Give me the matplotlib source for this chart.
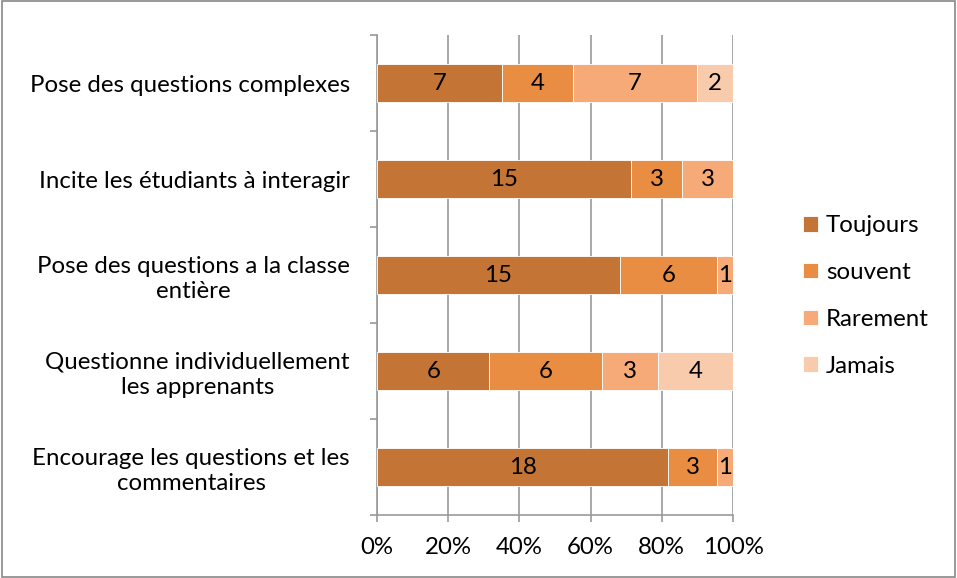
import matplotlib
matplotlib.use("Agg")
import matplotlib.pyplot as plt
import numpy as np
from matplotlib.patches import Rectangle

categories = [
    "Pose des questions complexes",
    "Incite les étudiants à interagir",
    "Pose des questions a la classe\nentière",
    "Questionne individuellement\nles apprenants",
    "Encourage les questions et les\ncommentaires",
]
series_names = ["Toujours", "souvent", "Rarement", "Jamais"]
toujours = [7, 15, 15, 6, 18]
souvent = [4, 3, 6, 6, 3]
rarement = [7, 3, 1, 3, 1]
jamais = [2, 0, 0, 4, 0]
colors = ["#C47535", "#E98D42", "#F6AA78", "#F8CBAD"]
xtick_labels = ["0%", "20%", "40%", "60%", "80%", "100%"]

plt.rcParams["font.family"] = ["Lato", "DejaVu Sans"]
FS = 17.3

fig = plt.figure(figsize=(9.57, 5.78), dpi=100)
ax = fig.add_axes([377 / 957, 1 - 515 / 578, (733 - 377) / 957, (515 - 35) / 578])

data = np.array([toujours, souvent, rarement, jamais], dtype=float)
totals = data.sum(axis=0)
pct = data / totals * 100
ypos = np.arange(len(categories))[::-1]

left = np.zeros(len(categories))
for i, name in enumerate(series_names):
    ax.barh(ypos, pct[i], left=left, height=0.4, color=colors[i], label=name,
            edgecolor="white", linewidth=0.6, zorder=3)
    for j in range(len(categories)):
        if data[i, j] > 0:
            ax.text(left[j] + pct[i, j] / 2, ypos[j], f"{int(data[i, j])}",
                    ha="center", va="center", fontsize=FS, color="black", zorder=4)
    left += pct[i]

ax.set_xlim(0, 100)
ax.set_ylim(-0.5, len(categories) - 0.5)
ax.set_xticks(np.arange(0, 101, 20))
ax.set_xticklabels(xtick_labels, fontsize=FS)
ax.set_yticks(ypos)
ax.set_yticklabels(categories, fontsize=FS, multialignment="center", linespacing=1.22)
ax.set_yticks(np.arange(-0.5, len(categories), 1), minor=True)

ax.tick_params(axis="y", which="major", length=0, pad=19.5)
ax.tick_params(axis="y", which="minor", length=5, color="#999999", width=1.2)
ax.tick_params(axis="x", length=5, color="#999999", width=1.2, pad=10.5)

ax.grid(axis="x", color="#999999", linewidth=1.2, zorder=0)
ax.set_axisbelow(True)
for s in ["top", "right"]:
    ax.spines[s].set_visible(False)
ax.spines["left"].set_color("#999999")
ax.spines["left"].set_linewidth(1.2)
ax.spines["bottom"].set_color("#999999")
ax.spines["bottom"].set_linewidth(1.2)

handles, labels = ax.get_legend_handles_labels()
leg = fig.legend(handles, labels, loc="center left", bbox_to_anchor=(784 / 957, 1 - 296 / 578),
                 frameon=False, fontsize=FS, handlelength=0.62, handleheight=0.62,
                 labelspacing=1.07, handletextpad=0.33, borderpad=0.3)

fig.patches.append(Rectangle((0.002, 0.002), 0.996, 0.996, transform=fig.transFigure,
                             fill=False, edgecolor="#888888", linewidth=1.2))

fig.savefig("out.png", dpi=100)
